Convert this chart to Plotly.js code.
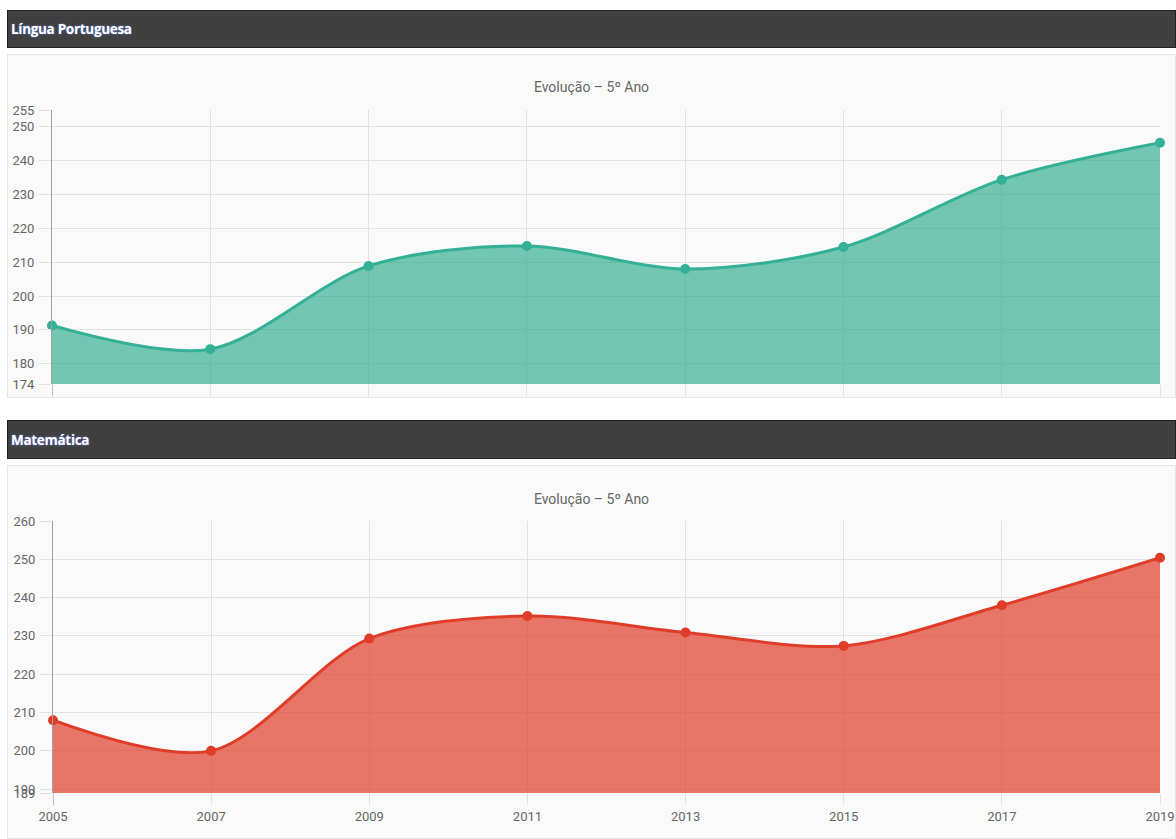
<!DOCTYPE html>
<html>
<head>
<meta charset="utf-8">
<script src="https://cdn.plot.ly/plotly-3.0.1.min.js"></script>
<style>
  html, body { margin:0; padding:0; background:#ffffff; width:1176px; height:839px; overflow:hidden; font-family:"Open Sans", "Noto Sans", sans-serif; }
  .bar { position:absolute; left:7px; width:1169px; background:#404040; border:1px solid #222; box-sizing:border-box; color:#fff; font-weight:700; font-size:13.5px; padding-left:3px; display:flex; align-items:center; text-shadow:0 0 2px #6a8cff; letter-spacing:-0.3px; }
  .panel { position:absolute; left:7px; width:1169px; background:#fafafa; border:1px solid #e6e6e6; box-sizing:border-box; }
</style>
</head>
<body>
<div class="bar" style="top:10px;height:38px;">Língua Portuguesa</div>
<div class="panel" style="top:54px;height:344px;"><div id="c1"></div></div>
<div class="bar" style="top:420px;height:39px;">Matemática</div>
<div class="panel" style="top:465px;height:374px;"><div id="c2"></div></div>
<script>
const years = [2005, 2007, 2009, 2011, 2013, 2015, 2017, 2019];
const portugues = [191.3, 184.3, 208.9, 214.8, 208.0, 214.5, 234.4, 245.3];
const matematica = [208.0, 200.0, 229.3, 235.2, 230.9, 227.4, 238.0, 250.4];
const ticksPort = [174, 180, 190, 200, 210, 220, 230, 240, 250, 255];
const ticksMat = [189, 190, 200, 210, 220, 230, 240, 250, 260];
const chartTitle = "Evolução – 5º Ano";

const tickFont = {family: "Roboto, 'Liberation Sans', sans-serif", size: 13, color: "#666"};

function makeChart(id, yvals, yticks, yrange, lineColor, fillColor, w, h, margin, titleY, showX) {
  const trace = {
    x: years, y: yvals, type: "scatter", mode: "lines+markers",
    line: {color: lineColor, width: 3, shape: "spline", smoothing: 0.9},
    marker: {color: lineColor, size: 10},
    fill: "tozeroy", fillcolor: fillColor,
    cliponaxis: false,
    hoverinfo: "x+y"
  };
  const layout = {
    width: w, height: h, margin: margin,
    paper_bgcolor: "rgba(0,0,0,0)", plot_bgcolor: "rgba(0,0,0,0)",
    showlegend: false,
    title: {text: chartTitle, x: 0.5, xanchor: "center", y: titleY, yref: "container", yanchor: "middle",
            font: {family: "Roboto, 'Liberation Sans', sans-serif", size: 14, color: "#666"}},
    xaxis: {
      range: [2005, 2019], tickvals: years, ticktext: years.map(String),
      showticklabels: showX, tickfont: tickFont,
      showgrid: true, gridcolor: "#e2e2e2", gridwidth: 1,
      ticks: "outside", ticklen: 11, tickcolor: "#e2e2e2",
      zeroline: false, showline: false, fixedrange: true
    },
    yaxis: {
      range: yrange, tickvals: yticks, ticktext: yticks.map(String),
      tickfont: tickFont,
      showgrid: true, gridcolor: "#e2e2e2", gridwidth: 1,
      ticks: "outside", ticklen: 12, tickcolor: "#e2e2e2",
      ticklabelstandoff: 2,
      zeroline: false, showline: true, linecolor: "#a0a0a0", linewidth: 1,
      fixedrange: true
    },
    shapes: [{type: "line", xref: "x", yref: "paper", x0: 2005, x1: 2005, y0: -0.045, y1: 0,
              line: {color: "#a0a0a0", width: 1}}]
  };
  Plotly.newPlot(id, [trace], layout, {displayModeBar: false, staticPlot: true});
}

makeChart("c1", portugues, ticksPort, [174, 255], "#33b096", "rgba(30,166,134,0.62)",
  1167, 342, {l: 44, r: 15, t: 55, b: 13}, 0.905, false);
makeChart("c2", matematica, ticksMat, [189, 260], "#e03d29", "rgba(224,72,52,0.74)",
  1167, 372, {l: 45, r: 15, t: 55, b: 45}, 0.912, true);
</script>
</body>
</html>
